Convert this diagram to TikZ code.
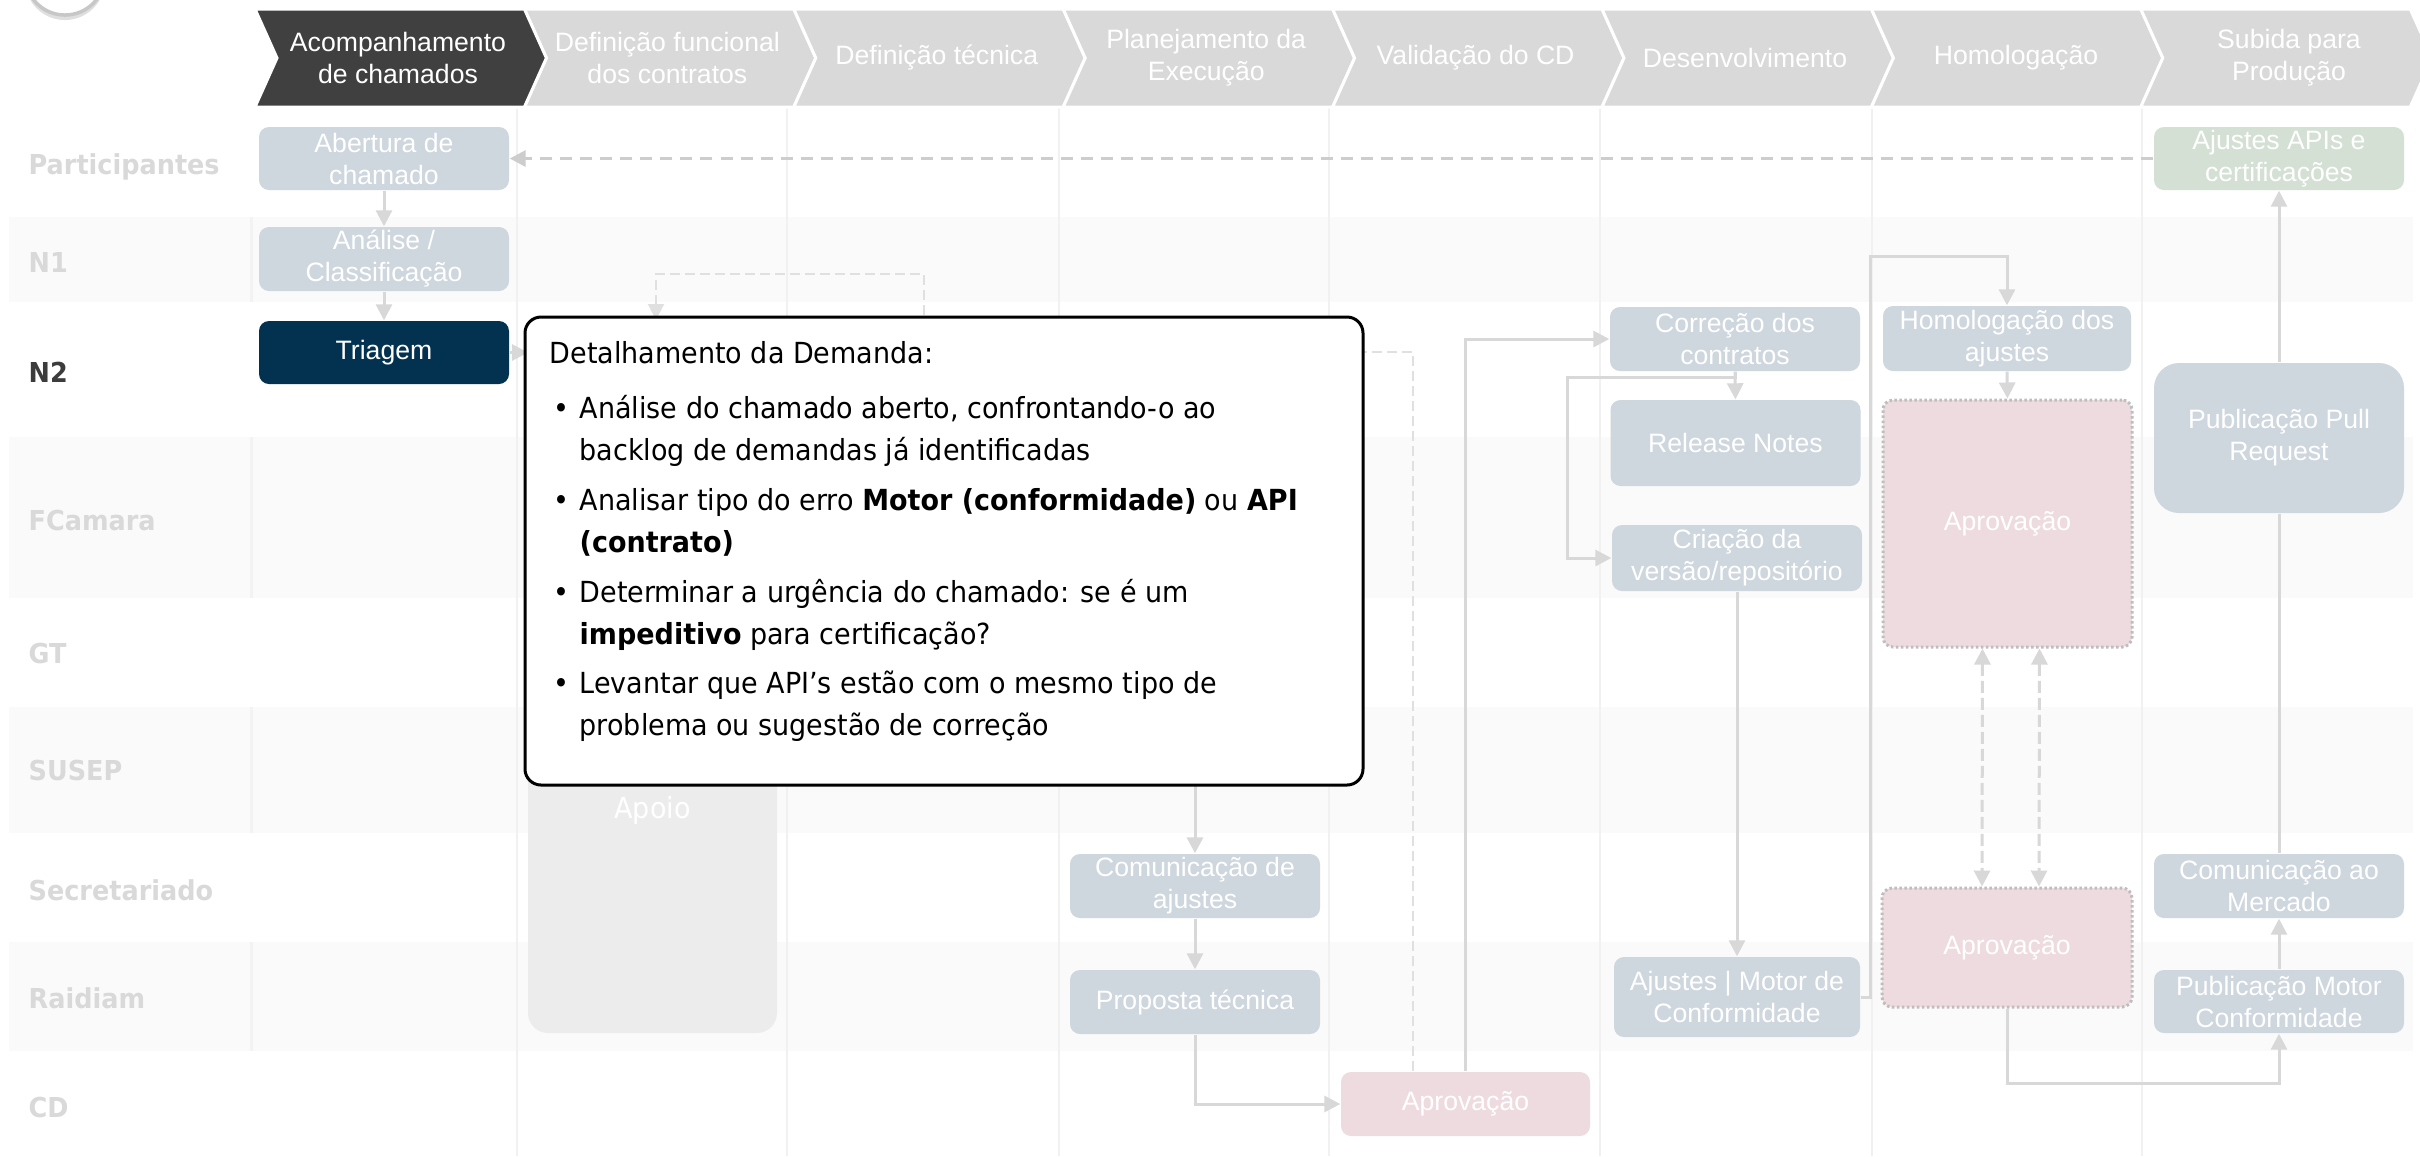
\documentclass[tikz,border=0pt]{standalone}
\usepackage{fontspec}
\setmainfont{Liberation Sans}
\newfontfamily\tahfont[FakeStretch=0.93]{DejaVu Sans}
\usetikzlibrary{arrows.meta,calc,shadows}
\definecolor{chevd}{RGB}{64,64,64}
\definecolor{chevl}{RGB}{217,217,217}
\definecolor{boxc}{RGB}{206,214,222}
\definecolor{navy}{RGB}{3,50,80}
\definecolor{grn}{RGB}{211,224,211}
\definecolor{pnk}{RGB}{238,219,223}
\definecolor{apoioc}{RGB}{236,236,236}
\definecolor{bandc}{RGB}{250,250,250}
\definecolor{colline}{RGB}{241,241,241}
\definecolor{sepc}{RGB}{243,243,243}
\definecolor{arrc}{RGB}{216,216,216}
\definecolor{lblc}{RGB}{217,217,217}
\definecolor{lbldark}{RGB}{60,60,60}
\definecolor{dotc}{RGB}{190,190,190}
\definecolor{dashc}{RGB}{205,205,205}
\definecolor{thindash}{RGB}{224,224,224}
\newcommand\bxfnt{\fontsize{7.57pt}{9.1pt}\selectfont}
\newcommand\cfnt{\tahfont\fontsize{8.25pt}{11.95pt}\selectfont}
\newcommand\lfnt{\tahfont\bfseries\fontsize{7.8pt}{9pt}\selectfont}
\begin{document}
\begin{tikzpicture}[x=0.01cm,y=-0.01cm,
  pbox/.style={rounded corners=0.1cm, fill=boxc, text=white, align=center, font=\bxfnt, inner sep=0pt},
  pinkbox/.style={pbox, fill=pnk},
  dotbox/.style={pbox, fill=pnk, draw=dotc, line width=0.03cm, dash pattern=on 0.025cm off 0.025cm},
  sz/.style 2 args={minimum width=#1*0.01cm, minimum height=#2*0.01cm},
  tip/.style={-{Triangle[length=0.16cm,width=0.16cm]}},
  ln/.style={draw=arrc, line width=0.03cm},
  arr/.style={ln, tip},
  dashln/.style={draw=dashc, line width=0.03cm, dash pattern=on 0.12cm off 0.08cm},
  tdash/.style={draw=thindash, line width=0.02cm, dash pattern=on 0.1cm off 0.05cm},
  ddash/.style={draw=arrc, line width=0.03cm, dash pattern=on 0.12cm off 0.05cm,
     {Triangle[length=0.16cm,width=0.16cm]}-{Triangle[length=0.16cm,width=0.16cm]}},
  htext/.style={text=white, align=center, font=\bxfnt, inner sep=0pt},
  lbl/.style={text=lblc, font=\lfnt, inner sep=0pt, anchor=base west},
  ctext/.style={font=\cfnt, text=black, inner sep=0pt, anchor=base west}
]
\useasboundingbox (0,0) rectangle (2420,1156);
\fill[white] (0,0) rectangle (2420,1156);

% top-left circle
\filldraw[fill=white, draw=black!22, line width=0.035cm,
  drop shadow={opacity=0.25, shadow xshift=0cm, shadow yshift=-0.05cm}]
  (65,-25) circle[radius=0.40cm];

% swimlane bands
\foreach \ya/\yb in {217/302, 437/598, 707/833, 942/1051}{
  \fill[bandc] (9,\ya) rectangle (2413,\yb);
  \draw[sepc, line width=0.03cm] (251,\ya) -- (251,\yb);
}
% column lines
\foreach \xc in {517,787,1059,1329,1600,1872,2142}{
  \draw[colline, line width=0.02cm] (\xc,107) -- (\xc,1156);
}

% header chevrons
\foreach \i in {0,...,7}{
  \pgfmathsetmacro\xl{255+269.4*\i}
  \pgfmathsetmacro\xr{\xl+269.4}
  \filldraw[fill=chevl, draw=white, line width=0.03cm]
    (\xl,9) -- (\xr,9) -- (\xr+22,58) -- (\xr,107) -- (\xl,107) -- (\xl+22,58) -- cycle;
}
\filldraw[fill=chevd, draw=white, line width=0.03cm]
  (255,9) -- (524.4,9) -- (546.4,58) -- (524.4,107) -- (255,107) -- (277,58) -- cycle;
\node[htext] (h1) at (398,58) {Acompanhamento\\de chamados};
\node[htext] (h2) at (667.4,58) {Definição funcional\\dos contratos};
\node[htext] (h3) at (936.8,58) {Definição técnica};
\node[htext] (h4) at (1206.2,58) {Planejamento da\\Execução};
\node[htext] (h5) at (1475.6,58) {Validação do CD};
\node[htext] (h6) at (1745,58) {Desenvolvimento};
\node[htext] (h7) at (2016,58) {Homologação};
\node[htext] (h8) at (2289,58) {Subida para\\Produção};

% row labels
\node[lbl] (lpart) at (28,174) {Participantes};
\node[lbl] (ln1) at (28,272) {N1};
\node[lbl, text=lbldark] (ln2) at (28,382) {N2};
\node[lbl] (lfc) at (28,530) {FCamara};
\node[lbl] (lgt) at (28,663) {GT};
\node[lbl] (lsu) at (28,780) {SUSEP};
\node[lbl] (lse) at (28,900) {Secretariado};
\node[lbl] (lra) at (28,1008) {Raidiam};
\node[lbl] (lcd) at (28,1117) {CD};

% process boxes
\node[pbox, sz={250}{63}] (abertura) at (384,158.5) {Abertura de\\chamado};
\node[pbox, sz={250}{64}] (analise) at (384,259) {Análise /\\Classificação};
\node[pbox, sz={250}{63}, fill=navy] (triagem) at (384,352.5) {Triagem};
\node[pbox, sz={249}{446}, fill=apoioc, rounded corners=0.2cm, font=\cfnt] (apoio) at (652.5,810) {Apoio};
\node[pbox, sz={250}{64}] (comAjustes) at (1195,886) {Comunicação de\\ajustes};
\node[pbox, sz={250}{64}] (proposta) at (1195,1002) {Proposta técnica};
\node[pinkbox, sz={249}{64}] (aprovCD) at (1465.5,1104) {Aprovação};
\node[pbox, sz={250}{64}] (correcao) at (1735,339) {Correção dos\\contratos};
\node[pbox, sz={250}{86}] (release) at (1735.5,443) {Release Notes};
\node[pbox, sz={250}{66}] (criacao) at (1737,558) {Criação da\\versão/repositório};
\node[pbox, sz={246}{80}] (ajustesMotor) at (1737,997) {Ajustes | Motor de\\Conformidade};
\node[pbox, sz={248}{65}] (homolog) at (2007,338.5) {Homologação dos\\ajustes};
\node[dotbox, sz={249}{247}] (aprov1) at (2007.5,523.5) {Aprovação};
\node[dotbox, sz={250}{119}] (aprov2) at (2007,947.5) {Aprovação};
\node[pbox, sz={250}{63}, fill=grn] (ajustesAPI) at (2279,158.5) {Ajustes APIs e\\certificações};
\node[pbox, sz={250}{150}, rounded corners=0.25cm] (pullreq) at (2279,438) {Publicação Pull\\Request};
\node[pbox, sz={250}{64}] (comMercado) at (2279,886) {Comunicação ao\\Mercado};
\node[pbox, sz={250}{63}] (pubMotor) at (2279,1001.5) {Publicação Motor\\Conformidade};

% hidden ends (under the callout)
\coordinate (c3) at (528,352.5);
\coordinate (c5a) at (924,330);
\coordinate (c5b) at (656,320);
\coordinate (c6) at (1340,352);
\coordinate (c9) at (1195,785);

% connectors
\draw[arr] (abertura.south) -- (analise.north);
\draw[arr] (analise.south) -- (triagem.north);
\draw[arr] (triagem.east) -- (c3);
\draw[dashln, tip] (ajustesAPI.west) -- (abertura.east);
\draw[tdash, tip] (c5a) -- ++(0,-56) -| (c5b);
\draw[tdash] ($(aprovCD.north west)+(73,0)$) |- (c6);
\draw[arr] (aprovCD.north) |- (correcao.west);
\draw[arr] (proposta.south) |- (aprovCD.west);
\draw[arr] (c9) -- (comAjustes.north);
\draw[arr] (comAjustes.south) -- (proposta.north);
\draw[arr] (correcao.south) -- (release.north);
\draw[arr] (correcao.south) -- ++(0,6) -| ($(criacao.west)+(-44,0)$) -- (criacao.west);
\draw[arr] (criacao.south) -- (ajustesMotor.north);
\draw[arr] (ajustesMotor.east) -- ++(10,0) |- ($(homolog.north)+(0,-49)$) -- (homolog.north);
\draw[arr] (homolog.south) -- (aprov1.north);
\draw[ddash] ($(aprov1.south)+(-25,0)$) -- ($(aprov2.north)+(-25,0)$);
\draw[ddash] ($(aprov1.south)+(32,0)$) -- ($(aprov2.north)+(32,0)$);
\draw[arr] (aprov2.south) -- ++(0,75) -| (pubMotor.south);
\draw[arr] (pubMotor.north) -- (comMercado.south);
\draw[ln] (comMercado.north) -- (pullreq.south);
\draw[arr] (pullreq.north) -- (ajustesAPI.south);

% callout
\node[draw=black, fill=white, line width=0.03cm, rounded corners=0.16cm, sz={838}{468}, inner sep=0pt] (callout) at (944,551) {};
\node[ctext] (ct0) at (549,363) {Detalhamento da Demanda:};
\node[ctext] (bu1) at (553,418) {•};
\node[ctext] (ct1a) at (579,418) {Análise do chamado aberto, confrontando-o ao};
\node[ctext] (ct1b) at (579,460) {backlog de demandas já identificadas};
\node[ctext] (bu2) at (553,510) {•};
\node[ctext] (ct2a) at (579,510) {Analisar tipo do erro \textbf{Motor (conformidade)} ou \textbf{API}};
\node[ctext] (ct2b) at (579,552) {\textbf{(contrato)}};
\node[ctext] (bu3) at (553,602) {•};
\node[ctext] (ct3a) at (579,602) {Determinar a urgência do chamado: se é um};
\node[ctext] (ct3b) at (579,644) {\textbf{impeditivo} para certificação?};
\node[ctext] (bu4) at (553,693) {•};
\node[ctext] (ct4a) at (579,693) {Levantar que API’s estão com o mesmo tipo de};
\node[ctext] (ct4b) at (579,735) {problema ou sugestão de correção};
\end{tikzpicture}
\end{document}
